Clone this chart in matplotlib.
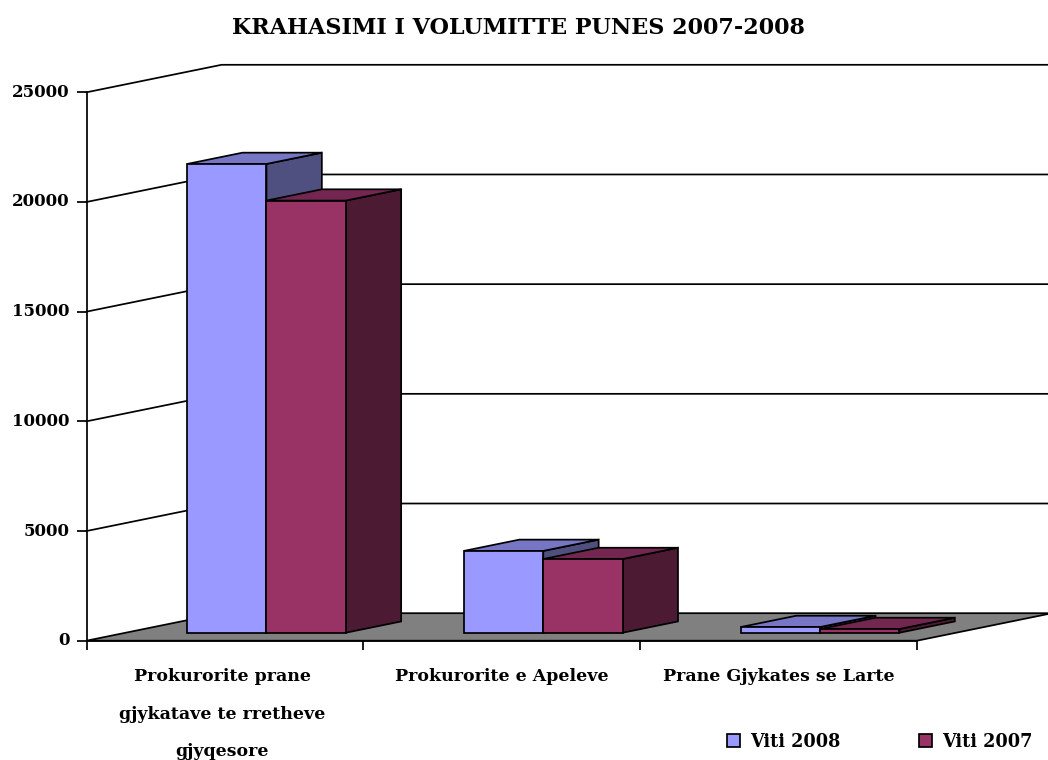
import matplotlib

matplotlib.use("Agg")
import matplotlib.pyplot as plt
from matplotlib.patches import Patch
from matplotlib.transforms import ScaledTranslation

plt.rcParams["font.family"] = ["DejaVu Serif"]
plt.rcParams["font.weight"] = "bold"

categories = ["Prokurorite prane\ngjykatave te rretheve\ngjyqesore", "Prokurorite e Apeleve", "Prane Gjykates se Larte"]
viti_2008 = [21370, 3730, 260]
viti_2007 = [19700, 3360, 170]
value_ticks = [0, 5000, 10000, 15000, 20000, 25000]

# fake 3d: depth vector of the chart box, in data units
DX = 0.488
DY = 1254
BAR_W = 0.2865
BAR_X0 = 0.222
BAR_FRONT = 0.29
BAR_BACK = 0.70

LW = 1.25
W, H = 1048, 760


def poly(ax, xs, ys, color, z):
    ax.fill(xs, ys, facecolor=color, edgecolor="black", linewidth=LW, joinstyle="miter", clip_on=False, zorder=z)


def draw_bar(ax, x, value, front, top, side, z):
    # x, value are on the front plane of the bar
    x0 = x + DX * BAR_FRONT
    y0 = DY * BAR_FRONT
    dx = DX * (BAR_BACK - BAR_FRONT)
    dy = DY * (BAR_BACK - BAR_FRONT)
    x1 = x0 + BAR_W
    y1 = y0 + value
    poly(ax, [x1, x1 + dx, x1 + dx, x1], [y0, y0 + dy, y1 + dy, y1], side, z)
    poly(ax, [x0, x1, x1 + dx, x0 + dx], [y1, y1, y1 + dy, y1 + dy], top, z)
    poly(ax, [x0, x1, x1, x0], [y0, y0, y1, y1], front, z)


fig = plt.figure(figsize=(W / 100, H / 100), dpi=100)
ax = fig.add_axes([86.5 / W, (H - 640.7) / H, 830.5 / W, 548.4 / H])
ax.set_xlim(0, 3)
ax.set_ylim(0, 25000)
ax.patch.set_visible(False)

# floor
poly(ax, [0, 3, 3 + DX, DX], [0, 0, DY, DY], "#808080", 1)

# grid on both walls
for v in value_ticks[1:]:
    ax.plot([0, DX, 3 + DX], [v, v + DY, v + DY], color="black", lw=LW, clip_on=False, zorder=2, solid_joinstyle="miter")

for i in range(3):
    x = i + BAR_X0
    draw_bar(ax, x, viti_2008[i], "#9999FF", "#7676C4", "#505080", 3)
    draw_bar(ax, x + BAR_W, viti_2007[i], "#993366", "#732650", "#4D1A33", 3)

for s in ["top", "right"]:
    ax.spines[s].set_visible(False)
for s in ["left", "bottom"]:
    ax.spines[s].set_linewidth(LW)
    ax.spines[s].set_zorder(4)

ax.set_yticks(value_ticks)
ax.set_yticklabels([str(v) for v in value_ticks], fontsize=12)
ax.tick_params(axis="y", length=7, width=LW, pad=5)
# numbers sit a little above their ticks
nudge = ScaledTranslation(0, 2 / 100, fig.dpi_scale_trans)
for t in ax.get_yticklabels():
    t.set_verticalalignment("center_baseline")
    t.set_transform(t.get_transform() + nudge)
ax.set_xticks([0, 1, 2, 3])
ax.set_xticklabels([])
ax.tick_params(axis="x", length=6.5, width=LW)
ax.set_xticks([0.49, 1.5, 2.5], labels=categories, minor=True, fontsize=12.5, linespacing=2.55, va="top")
ax.tick_params(axis="x", which="minor", length=0, pad=20)

fig.text(518.5 / W, 1 - 28 / H, "KRAHASIMI I VOLUMITTE PUNES 2007-2008", ha="center", va="center", fontsize=16)

handles = [
    Patch(facecolor="#9999FF", edgecolor="black", linewidth=LW, label="Viti 2008"),
    Patch(facecolor="#993366", edgecolor="black", linewidth=LW, label="Viti 2007"),
]
fig.legend(
    handles=handles,
    ncol=2,
    frameon=False,
    loc="center left",
    bbox_to_anchor=(711 / W, 1 - 742 / H),
    fontsize=12.7,
    handlelength=0.75,
    handleheight=0.75,
    handletextpad=0.55,
    columnspacing=4.47,
)

fig.savefig("out.png", dpi=100, facecolor="white")
